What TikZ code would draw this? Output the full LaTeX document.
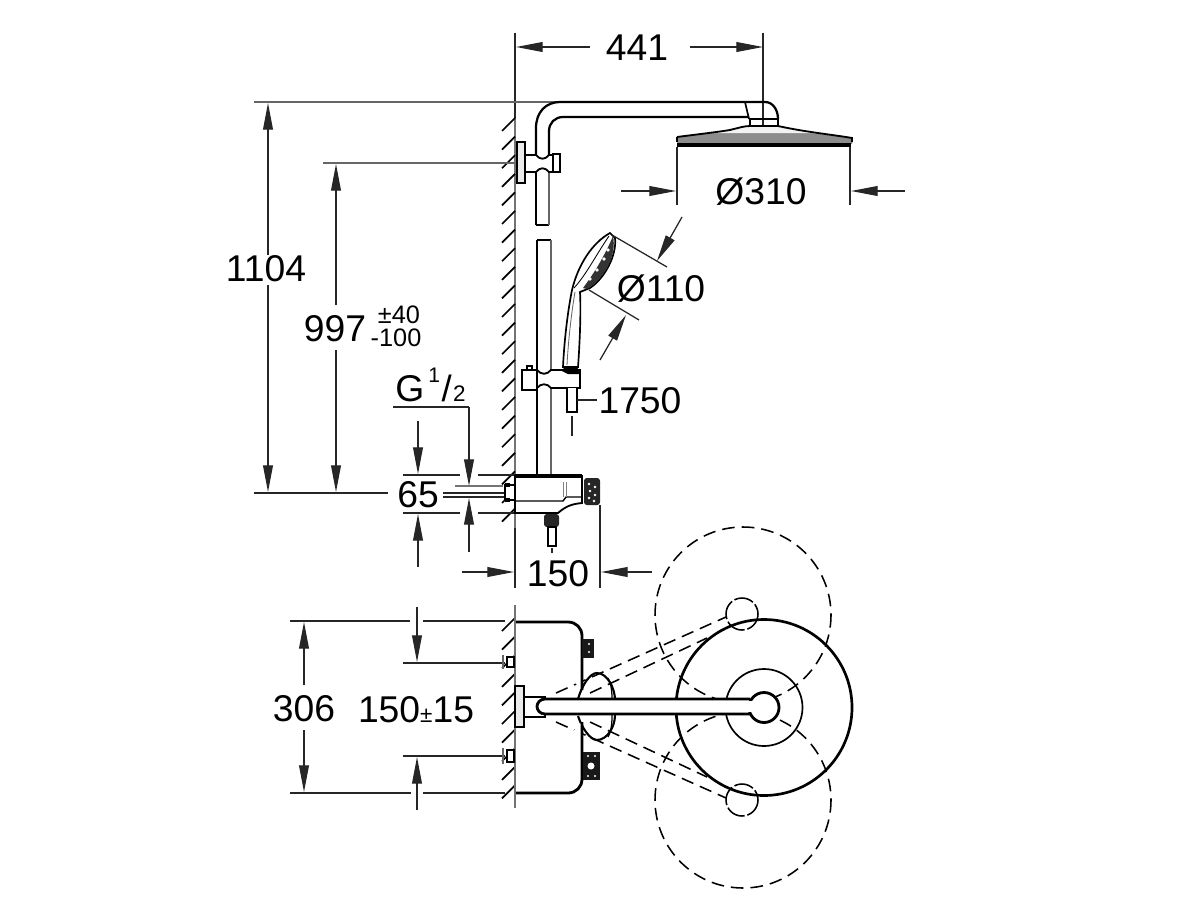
\documentclass[tikz,border=0pt]{standalone}
\usepackage{fontspec}
\setmainfont{Liberation Sans}
\usetikzlibrary{arrows.meta}

\tikzset{
	dimtext/.style={inner sep=0pt,font=\fontsize{26.5}{26.5}\selectfont},
	smalltext/.style={inner sep=0pt,font=\fontsize{18}{18}\selectfont},
	dimline/.style={line width=0.9pt,black!85},
	dimarrow/.style={line width=0.9pt,black!85,-{Triangle[length=19pt,width=7pt]}},
	wall/.style={line width=1.8pt,black!55},
	hatch/.style={line width=1.2pt},
	part/.style={line width=1.3pt,fill=white},
	bodyline/.style={line width=2pt},
	swingline/.style={line width=1.1pt,dash pattern=on 9pt off 5pt}
}

\begin{document}
\begin{tikzpicture}[x=0.025cm,y=-0.025cm]
	\useasboundingbox (0,0) rectangle (1200,913);
	
	\coordinate (walltop) at (515,33);
	\coordinate (wallhatch) at (515,118);
	\coordinate (wallbase) at (515,528);
	\draw[dimline] (walltop) -- (wallhatch);
	\draw[wall] (wallhatch) -- (wallbase);
	\foreach \y in {118,136.6,...,510}
		\draw[hatch] (515,\y) -- (502,\y+13);
	
	\draw[dimline,black!60] (254,102) -- (557,102);
	\draw[dimline,black!60] (323,163) -- (515,163);
	\draw[dimline] (254,493) -- (388,493);
	\draw[dimline] (763,33) -- (763,126);
	
	\node[dimtext] (top) at (637,48) {441};
	\draw[dimarrow] (590,47) -- (516,47);
	\draw[dimarrow] (690,47) -- (763,47);
	
	\node[dimtext] (total) at (266,269) {1104};
	\draw[dimarrow] (268,255) -- (268,103);
	\draw[dimarrow] (268,285) -- (268,492);
	
	\node[dimtext] (bar) at (335,329) {997};
	\node[smalltext] (barup) at (399,315) {±40};
	\node[smalltext] (bardown) at (396,338) {-100};
	\draw[dimarrow] (336,305) -- (336,164);
	\draw[dimarrow] (336,350) -- (336,492);
	
	\node[dimtext,anchor=base west] (thread) at (395,401) {G\hspace{3pt}\raisebox{13.5pt}{\fontsize{15}{15}\selectfont 1}\hspace{1pt}{\fontsize{26}{26}\selectfont /}\hspace{1pt}{\fontsize{16}{16}\selectfont 2}};
	\draw[dimline] (393,407) -- (469,407) coordinate (lead);
	\draw[dimarrow] (lead) -- (469,486);
	\draw[dimarrow] (469,552) -- (469,498);
	
	\node[dimtext] (inlet) at (418,495) {65};
	\draw[dimline] (403,475) -- (460,475);
	\draw[dimline] (478,475) -- (515,475);
	\draw[dimline] (403,513) -- (460,513);
	\draw[dimline] (478,513) -- (515,513);
	\draw[dimarrow] (418,421) -- (418,474);
	\draw[dimarrow] (418,567) -- (418,514);
	\draw[dimline,black!55] (455,486) -- (503,486);
	\draw[dimline] (443,493) -- (505,493);
	\draw[dimline] (443,497) -- (505,497);
	
	\node[dimtext] (depth) at (558,574) {150};
	\draw[dimline] (515,528) -- (515,588);
	\draw[dimline] (600,505) -- (600,588);
	\draw[dimarrow] (462,572) -- (514,572);
	\draw[dimarrow] (652,572) -- (601,572);
	
	\draw[line width=1.3pt] (536,165) -- (536,225);
	\draw[line width=1.3pt] (536,225) -- (549,225);
	\draw[line width=1.5pt,black!60] (549,165) -- (549,225);
	\draw[line width=1.3pt] (537,240) -- (537,476);
	\draw[line width=1.3pt] (537,240) -- (551,240);
	\draw[line width=1.8pt,black!60] (551,240) -- (551,476);
	
	\draw[line width=1.6pt] (536,165) -- (536,128) .. controls (536,112) and (546,102) .. (560,102) -- (765,102) .. controls (773,102) and (778,110) .. (778,119);
	\draw[line width=1.6pt] (549,165) -- (549,131) .. controls (549,123) and (555,117) .. (563,117) -- (749,117);
	\draw[line width=1.2pt] (745,102) -- (749,119);
	\draw[line width=1.3pt] (750,119) rectangle (778,126);
	
	\fill[black!45] (677,137) .. controls (700,134) and (718,132) .. (730,130) -- (790,130) .. controls (810,133) and (835,136) .. (852,138) -- (852,144) -- (677,144) -- cycle;
	\fill[black!5] (708,133) .. controls (720,131) and (728,128) .. (745,127) -- (785,127) .. controls (795,130) and (805,131) .. (815,133) -- cycle;
	\draw[line width=1.3pt] (677,137) .. controls (700,134) and (718,132) .. (730,130) .. controls (738,128) and (744,126) .. (750,126) -- (778,126) .. controls (805,132) and (835,135) .. (852,138) -- (852,142);
	\draw[line width=1.3pt] (677,137) -- (677,142);
	\draw[line width=3pt] (677,145) -- (851,145);
	
	\node[dimtext] (head) at (761,192) {Ø310};
	\draw[dimline] (677,147) -- (677,205);
	\draw[dimline] (850,147) -- (850,205);
	\draw[dimarrow] (621,191) -- (676,191);
	\draw[dimarrow] (905,191) -- (851,191);
	
	\draw[part,line width=1.1pt,fill=black!8] (517,142) rectangle (525,183);
	\draw[part] (525,155) -- (536,155) .. controls (540,160) and (545,160) .. (549,155) -- (553,155) -- (553,172) -- (549,172) .. controls (545,167) and (540,167) .. (536,172) -- (525,172) -- cycle;
	\draw[part] (553,154) rectangle (560,172);
	
	\draw[part,line width=1.2pt] (610,233) .. controls (592,243) and (578,265) .. (572,290) .. controls (567,315) and (564,345) .. (563,367) -- (578,367) .. controls (580,340) and (581,310) .. (580,292) -- (590,288) .. controls (605,278) and (617,255) .. (615,238) -- cycle;
	\fill[black!80] (613,236) .. controls (617,255) and (605,278) .. (587,289) -- (583,288) .. controls (595,272) and (605,255) .. (613,236) -- cycle;
	\foreach \dx/\dy in {608/250,604/259,597/270,590/279}
		\fill[white] (\dx,\dy) circle (1.8);
	\draw[line width=0.6pt] (609,236) .. controls (596,255) and (586,275) .. (574,288);
	\draw[line width=0.6pt,black!60] (575,292) .. controls (571,315) and (568,345) .. (567,365);
	\fill (563,367) -- (578,367) -- (577,373) -- (565,373) -- cycle;
	
	\node[dimtext] (spray) at (661,289) {Ø110};
	\draw[dimline] (612,235) -- (667,267);
	\draw[dimline] (589,290) -- (639,320);
	\draw[dimarrow] (682,217) -- (657,261);
	\draw[dimarrow] (600,360) -- (626,315);
	
	\draw[part] (522,370) rectangle (537,390);
	\draw[part] (527,369) -- (527,366) -- (532,366) -- (532,369);
	\draw[part] (537,370) .. controls (541,375) and (547,375) .. (551,370) -- (580,370) -- (580,388) -- (551,388) .. controls (547,383) and (541,383) .. (537,388) -- cycle;
	\fill (560,370) -- (580,370) -- (580,374) -- (568,374) -- cycle;
	\draw[part] (567,388) -- (567,412) -- (577,412) -- (577,388);
	\draw[dimline] (572,416) -- (572,436);
	\node[dimtext] (hose) at (640,401) {1750};
	\draw[dimline] (577,400) -- (597,400);
	
	\draw[part] (515,476) -- (582,476) -- (582,503) .. controls (572,504) and (566,506) .. (558,513) -- (515,513) -- cycle;
	\draw[line width=3pt] (515,476) -- (582,476);
	\draw[line width=1pt] (515,501) -- (563,501) -- (566,497) -- (582,497);
	\draw[line width=0.7pt,black!50] (563,482) -- (563,497);
	\draw[line width=0.7pt,black!50] (566,482) -- (566,497);
	\fill[black!85,rounded corners=2pt] (584,478) rectangle (600,505);
	\foreach \dx/\dy in {589/484,595/487,590/491,595/495,589/498,594/501}
		\fill[white] (\dx,\dy) circle (1.4);
	\draw[part] (505,485) -- (515,485) -- (515,500) -- (505,500) -- cycle;
	\fill (505,483) rectangle (510,487);
	\fill (505,498) rectangle (510,502);
	\fill[black!85,rounded corners=2pt] (544,514) rectangle (559,527);
	\draw[part,line width=1.1pt] (548,527) rectangle (556,546);
	\draw[dimline] (552,548) -- (552,553);
	
	\coordinate (lowertop) at (515,605);
	\coordinate (lowerbase) at (515,808);
	\foreach \y in {618,636.6,...,800}
		\draw[hatch] (515,\y) -- (502,\y+13);
	
	\draw[dimline] (290,621) -- (410,621);
	\draw[dimline] (423,621) -- (505,621);
	\draw[dimline] (290,793) -- (411,793);
	\draw[dimline] (423,793) -- (505,793);
	\draw[dimline] (403,663) -- (505,663);
	\draw[dimline] (403,756) -- (505,756);
	
	\node[dimtext] (width) at (304,709) {306};
	\draw[dimarrow] (304,685) -- (304,622);
	\draw[dimarrow] (304,730) -- (304,792);
	\node[dimtext] (centres) at (416,710) {150{\fontsize{16}{16}\selectfont ±}15};
	\draw[dimarrow] (417,607) -- (417,662);
	\draw[dimarrow] (417,810) -- (417,757);
	
	\draw[swingline] (743,615) circle (88);
	\draw[swingline] (743,800) circle (88);
	\draw[swingline,dash pattern=on 14pt off 2pt] (742,614) circle (16);
	\draw[swingline,dash pattern=on 14pt off 2pt] (742,800) circle (16);
	
	\draw[swingline] (556,693) -- (726,617);
	\draw[swingline] (590,693) -- (707,638);
	\draw[swingline] (556,722) -- (726,798);
	\draw[swingline] (590,722) -- (707,777);
	
	\coordinate (roundcentre) at (764,707.5);
	\draw[line width=1.9pt] (roundcentre) circle (88);
	\draw[line width=1.2pt] (roundcentre) circle (38.5);
	
	\draw[line width=1.5pt] (578,699) .. controls (582,685) and (590,673) .. (597,673) .. controls (607,673) and (615,688) .. (615,700) -- (615,715) .. controls (615,727) and (607,740) .. (597,740) .. controls (590,740) and (582,728) .. (578,716);
	\draw[line width=0.9pt] (608,678) .. controls (612,685) and (612,695) .. (612,700);
	\draw[line width=0.9pt] (608,737) .. controls (612,730) and (612,720) .. (612,715);
	
	\draw[part,bodyline] (515,622) -- (568,622) .. controls (576,622) and (582,628) .. (582,636) -- (582,690);
	\draw[part,bodyline] (515,793) -- (568,793) .. controls (576,793) and (582,787) .. (582,779) -- (582,722);
	\fill[black!90] (582,639) rectangle (594,658);
	\fill[white] (589,644) circle (1.2);
	\fill[white] (589,652) circle (1.2);
	\fill[black!90] (583,752) rectangle (600,780);
	\fill[white] (591,766) circle (3.5);
	\fill[white] (588,756) circle (1.2);
	\fill[white] (595,756) circle (1.2);
	\fill[white] (588,776) circle (1.2);
	\fill[white] (595,776) circle (1.2);
	
	\draw[wall] (lowertop) -- (lowerbase);
	\draw[part] (507,657) rectangle (514,667);
	\draw[line width=1.5pt,black!60] (503,655) -- (503,669);
	\draw[part] (507,750) rectangle (514,762);
	\draw[line width=1.5pt,black!60] (503,748) -- (503,764);
	
	\draw[part] (524,697) rectangle (545,717);
	\fill[white] (541,699) rectangle (752,714);
	\draw[bodyline] (750,699) -- (545,699) .. controls (540,699) and (537,703) .. (537,706.5) .. controls (537,710) and (540,714) .. (545,714) -- (750,714);
	\draw[part,line width=1.1pt,fill=black!8] (515,686) rectangle (524,727);
	\draw[bodyline,fill=white] (764,707.5) circle (15);
	\fill[white] (746,701) rectangle (755,712);
\end{tikzpicture}
\end{document}
